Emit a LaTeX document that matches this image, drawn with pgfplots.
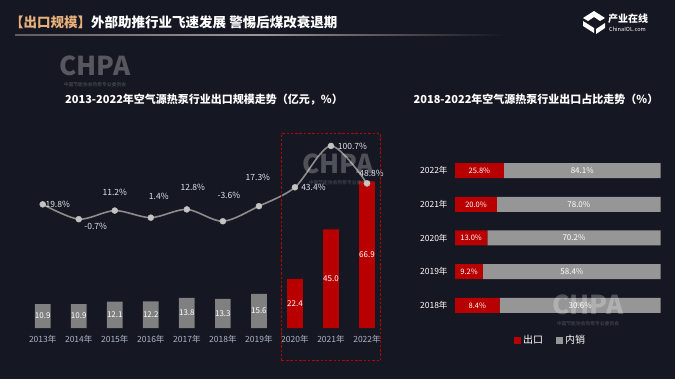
\documentclass[border=0pt]{standalone}
\usepackage{pgfplots}
\pgfplotsset{compat=1.18}
\usepackage{pgfplotstable}
\usepackage{fontspec}
\setmainfont{Noto Sans CJK SC}
\definecolor{bg}{RGB}{21,23,34}
\definecolor{gold}{RGB}{232,176,122}
\definecolor{barred}{RGB}{184,0,0}
\definecolor{barreddk}{RGB}{140,0,0}
\definecolor{bargray}{RGB}{128,128,128}
\definecolor{bargraydk}{RGB}{100,100,100}
\definecolor{sharegray}{RGB}{150,150,150}
\definecolor{sharegraydk}{RGB}{105,105,105}
\definecolor{linegray}{RGB}{140,140,140}
\definecolor{ptgray}{RGB}{195,195,195}
\definecolor{ticktxt}{RGB}{175,182,200}
\definecolor{lbltxt}{RGB}{228,230,238}
\newcommand{\fs}[1]{\fontsize{#1bp}{#1bp}\selectfont}

\pgfplotstableread{
x v lab
0 10.9 10.9
1 10.9 10.9
2 12.1 12.1
3 12.2 12.2
4 13.8 13.8
5 13.3 13.3
6 15.6 15.6
}\graybars
\pgfplotstableread{
x v lab
7 22.4 22.4
8 45.0 45.0
9 66.9 66.9
}\redbars
\pgfplotstableread{
y r g rl gl
0 21.7 78.3 8.4 30.6
1 13.6 86.4 9.2 58.4
2 15.7 84.3 13.0 70.2
3 20.4 79.6 20.0 78.0
4 23.7 76.3 25.8 84.1
}\sharedata

\begin{document}
\begin{tikzpicture}[x=1bp,y=1bp]
\path[use as bounding box] (0,0) rectangle (675,379);
\fill[bg] (0,0) rectangle (675,379);

% header
\node[anchor=west, inner sep=0, font=\fs{13.5}\bfseries] at (10,357)
  {\textcolor{gold}{【出口规模】}\textcolor{white}{外部助推行业飞速发展 警惕后煤改衰退期}};
\shade[left color=linegray!60!bg, right color=bg, middle color=linegray!90] (15,343.6) rectangle (505,344.6);
% logo
\fill[white] (594,368) -- (605,361) -- (600,358) -- (594,362) -- (588,358) -- (583,361) -- cycle;
\fill[white] (583,358) -- (594,351) -- (594,346) -- (583,353) -- cycle;
\fill[white] (605,356) -- (596,350) -- (596,345) -- (605,351) -- cycle;
\node[anchor=west, inner sep=0, text=white, font=\fs{10}\bfseries] at (608,360) {产业在线};
\node[anchor=west, inner sep=0, text=white, font=\fs{5.6}] at (609,349.5) {ChinaIOL.com};

% titles
\node[text=white, font=\fs{11}\bfseries] at (204,279) {2013-2022年空气源热泵行业出口规模走势（亿元，\%）};
\node[text=white, font=\fs{11}\bfseries] at (536,280) {2018-2022年空气源热泵行业出口占比走势（\%）};

% watermark (behind data)
\begin{scope}[opacity=0.28, every node/.style={text=white, inner sep=0}]
\node[font=\fs{26}\bfseries] at (95,313) {CHPA};
\node[font=\fs{4.8}] at (95,294) {中国节能协会热泵专业委员会};
\end{scope}

% left: bars
\begin{axis}[at={(24.7bp,51bp)}, anchor=south west, scale only axis,
  width=360.3bp, height=175.2bp, xmin=-0.5, xmax=9.5, ymin=0, ymax=80,
  axis line style={draw=none}, ytick=\empty, xtick={0,...,9},
  xticklabels={2013年,2014年,2015年,2016年,2017年,2018年,2019年,2020年,2021年,2022年},
  major tick length=0, xticklabel style={font=\fs{8.5}, text=ticktxt, yshift=-4bp},
  clip=false]
\addplot[ybar, bar width=15.7bp, bar shift=0pt, draw=none, fill=bargray] table[x=x,y=v] {\graybars};
\addplot[ybar, bar width=15.7bp, bar shift=0pt, draw=none, fill=barred] table[x=x,y=v] {\redbars};
\addplot[draw=none, mark=none, nodes near coords, point meta=explicit symbolic,
  every node near coord/.append style={anchor=center, font=\fs{8}, text=white}]
  table[x=x, y expr=\thisrow{v}/2, meta=lab] {\graybars};
\addplot[draw=none, mark=none, nodes near coords, point meta=explicit symbolic,
  every node near coord/.append style={anchor=center, font=\fs{8}, text=white}]
  table[x=x, y expr=\thisrow{v}/2, meta=lab] {\redbars};
\end{axis}

% left: growth line
\begin{axis}[at={(24.7bp,145.9bp)}, anchor=south west, scale only axis,
  width=360.3bp, height=93.9bp, xmin=-0.5, xmax=9.5, ymin=-20, ymax=110,
  hide axis, clip=false]
\addplot[smooth, color=linegray, line width=1.6bp, mark=*, mark size=3bp,
  mark options={fill=ptgray, draw=ptgray, line width=0.4bp}] coordinates {
(0,19.8) (1,-0.7) (2,11.2) (3,1.4) (4,12.8) (5,-3.6) (6,17.3) (7,43.4) (8,100.7) (9,48.8)};
\begin{scope}[every node/.style={font=\fs{8.5}, text=lbltxt, anchor=center, inner sep=0}]
\node[xshift=15bp] at (axis cs:0,19.8) {19.8\%};
\node[xshift=17bp, yshift=-7bp] at (axis cs:1,-0.7) {-0.7\%};
\node[xshift=0bp, yshift=18.6bp] at (axis cs:2,11.2) {11.2\%};
\node[xshift=8bp, yshift=21.3bp] at (axis cs:3,1.4) {1.4\%};
\node[xshift=6bp, yshift=21.6bp] at (axis cs:4,12.8) {12.8\%};
\node[xshift=6bp, yshift=25.6bp] at (axis cs:5,-3.6) {-3.6\%};
\node[xshift=-1bp, yshift=28.7bp] at (axis cs:6,17.3) {17.3\%};
\node[xshift=18.5bp] at (axis cs:7,43.4) {43.4\%};
\node[xshift=21.5bp] at (axis cs:8,100.7) {100.7\%};
\node[xshift=4.5bp, yshift=10.3bp] at (axis cs:9,48.8) {48.8\%};
\end{scope}
\end{axis}

% dashed highlight box
\draw[barred, dashed, dash pattern=on 2.5bp off 1.8bp, line width=0.6bp] (281.7,18.3) rectangle (380.3,245.7);

% right: share bars
\begin{axis}[at={(455bp,56.9bp)}, anchor=south west, scale only axis,
  width=205.7bp, height=168.3bp, xmin=0, xmax=100, ymin=-0.5, ymax=4.5,
  xbar stacked, bar width=15bp,
  axis line style={draw=none}, xtick=\empty, ytick={0,...,4},
  yticklabels={2018年,2019年,2020年,2021年,2022年},
  major tick length=0, yticklabel style={font=\fs{8.5}, text=white, xshift=-4bp},
  clip=false]
\addplot[draw=none, fill=barred] table[x=r,y=y] {\sharedata};
\addplot[draw=none, fill=sharegray] table[x=g,y=y] {\sharedata};
\end{axis}
\begin{axis}[at={(455bp,56.9bp)}, anchor=south west, scale only axis,
  width=205.7bp, height=168.3bp, xmin=0, xmax=100, ymin=-0.5, ymax=4.5,
  hide axis, clip=false]
\addplot[draw=none, mark=none, nodes near coords={\pgfplotspointmeta\%}, point meta=explicit symbolic,
  every node near coord/.append style={anchor=center, font=\fs{7.5}, text=white}]
  table[x expr=\thisrow{r}/2, y=y, meta=rl] {\sharedata};
\addplot[draw=none, mark=none, nodes near coords={\pgfplotspointmeta\%}, point meta=explicit symbolic,
  every node near coord/.append style={anchor=center, font=\fs{8}, text=white}]
  table[x expr=\thisrow{r}+\thisrow{g}/2, y=y, meta=gl] {\sharedata};
\end{axis}

% legend
\fill[barred] (514,35.5) rectangle (521,42);
\node[anchor=west, inner sep=0, text=white, font=\fs{10}] at (523,39) {出口};
\fill[sharegray] (556,35.5) rectangle (563,42);
\node[anchor=west, inner sep=0, text=white, font=\fs{10}] at (565,39) {内销};

% watermarks over data
\begin{scope}[opacity=0.25, every node/.style={text=white, inner sep=0}]
\node[font=\fs{26}\bfseries] at (338,215) {CHPA};
\node[font=\fs{4.8}] at (340,196) {中国节能协会热泵专业委员会};
\node[font=\fs{26}\bfseries] at (588,74) {CHPA};
\node[font=\fs{4.8}] at (588,55) {中国节能协会热泵专业委员会};
\end{scope}
\end{tikzpicture}
\end{document}
